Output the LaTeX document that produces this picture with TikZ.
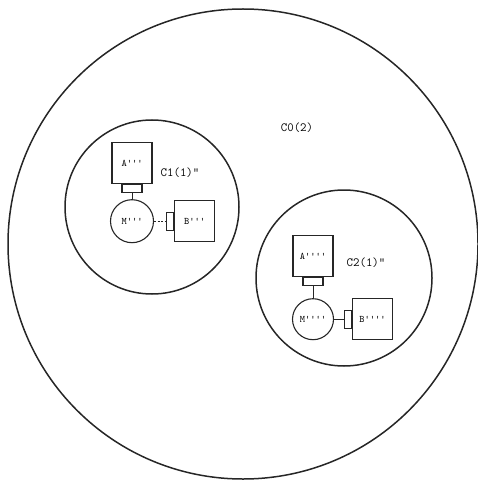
\documentclass[tikz,border=0pt]{standalone}
\usepackage{tikz}
\usetikzlibrary{positioning}

\newcommand{\prm}{\textquotesingle}

\begin{document}
\begin{tikzpicture}[
  x=1pt, y=-1pt,
  node distance=6pt,
  ring/.style={draw=black!85, circle, line width=1.5pt, inner sep=0pt},
  box/.style={draw=black!85, line width=1.1pt, minimum width=40pt, minimum height=41pt, inner sep=0pt, font=\ttfamily\fontsize{10}{12}\selectfont},
  motor/.style={draw=black!85, line width=1.1pt, circle, minimum size=43pt, inner sep=0pt, font=\ttfamily\fontsize{10}{12}\selectfont},
  plugh/.style={draw=black!85, line width=1.1pt, minimum width=20pt, minimum height=8pt, inner sep=0pt},
  plugv/.style={draw=black!85, line width=1.1pt, minimum width=7pt, minimum height=18pt, inner sep=0pt},
  link/.style={draw=black!85, line width=1pt},
  tag/.style={font=\ttfamily\fontsize{12.5}{14}\selectfont}
]
\useasboundingbox (0,0) rectangle (477,481);

% outer system
\node[ring, minimum size=470pt] (c0) at (243,244) {};
\node[tag] (t0) at (297,128) {C0(2)};

% first subsystem
\node[ring, minimum size=174pt] (c1) at (152,207) {};
\node[box] (A1) at (132,163) {A\prm\prm\prm};
\node[plugh, below=0pt of A1] (pa1) {};
\node[motor, below=of pa1] (M1) {M\prm\prm\prm};
\node[box, right=20pt of M1] (B1) {B\prm\prm\prm};
\node[plugv, left=0pt of B1] (pb1) {};
\node[tag] (t1) at (180,173) {C1(1)"};
\draw[link] (pa1) -- (M1);
\draw[link, dashed, dash pattern=on 2pt off 1.5pt] (M1) -- (pb1);

% second subsystem
\node[ring, minimum size=176pt] (c2) at (344,278) {};
\node[box] (A2) at (313,256) {A\prm\prm\prm\prm};
\node[plugh, below=0pt of A2] (pa2) {};
\node[motor, minimum size=41pt, below=12pt of pa2] (M2) {M\prm\prm\prm\prm};
\node[box, right=18pt of M2] (B2) {B\prm\prm\prm\prm};
\node[plugv, left=0pt of B2] (pb2) {};
\node[tag] (t2) at (366,263) {C2(1)"};
\draw[link] (pa2) -- (M2);
\draw[link] (M2) -- (pb2);
\end{tikzpicture}
\end{document}
